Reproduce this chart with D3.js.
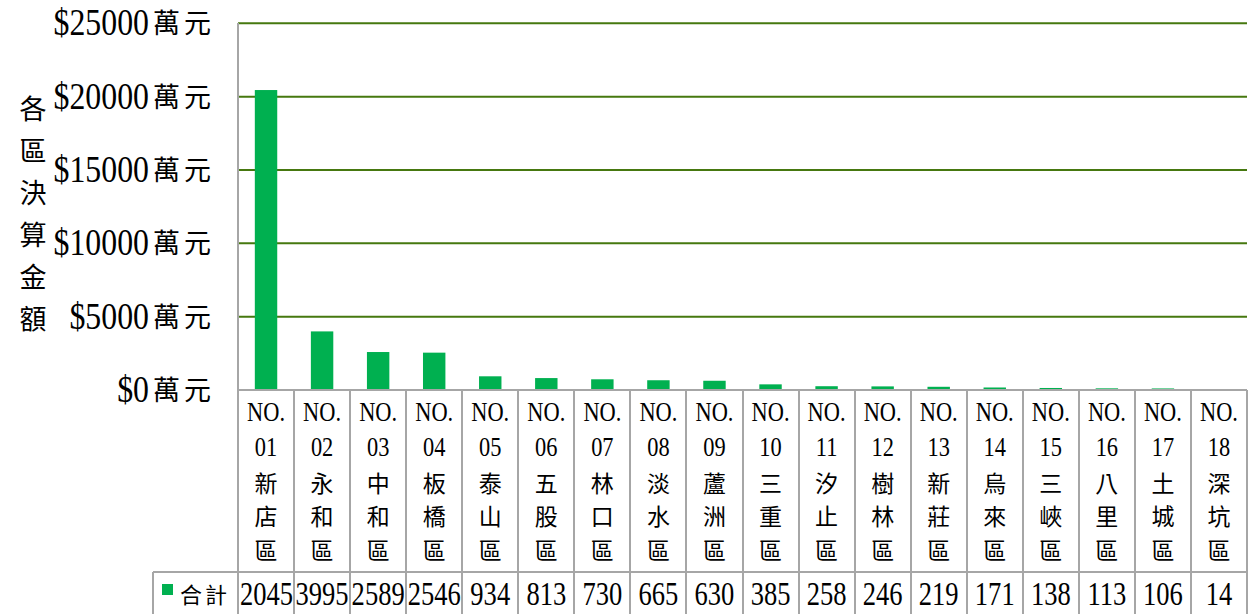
<!DOCTYPE html>
<html>
<head>
<meta charset="utf-8">
<script src="https://cdn.jsdelivr.net/npm/d3@7"></script>
<style>
  body { margin: 0; background: #fff; }
  svg { display: block; }
</style>
</head>
<body>
<div class="canvas"></div>
<script>
// chart data
const districtNos = ['01', '02', '03', '04', '05', '06', '07', '08', '09',
  '10', '11', '12', '13', '14', '15', '16', '17', '18'];
const districtNames = ['新店區', '永和區', '中和區', '板橋區', '泰山區', '五股區', '林口區', '淡水區', '蘆洲區',
  '三重區', '汐止區', '樹林區', '新莊區', '烏來區', '三峽區', '八里區', '土城區', '深坑區'];
const totals = [20450, 3995, 2589, 2546, 934, 813, 730, 665, 630,
  385, 258, 246, 219, 171, 138, 113, 106, 14];
const yTicks = [0, 5000, 10000, 15000, 20000, 25000];
const yTitle = '各區決算金額';
const seriesName = '合計';

const NUM = '"Liberation Serif", serif';
const CJK = '"Noto Sans CJK TC", sans-serif';
const barColor = '#00b050';
const gridColor = '#46780f';
const lineColor = '#a6a6a6';

const width = 1256, height = 614;
const plot = { left: 238, right: 1247, top: 23.3, bottom: 390 };
const table = { headerBottom: 572, legendLeft: 153 };

const svg = d3.select('.canvas')
  .append('svg')
  .attr('width', width)
  .attr('height', height);

const x = d3.scaleBand()
  .domain(districtNos)
  .range([plot.left, plot.right])
  .padding(0);

const y = d3.scaleLinear()
  .domain([0, 25000])
  .range([plot.bottom, plot.top]);

// gridlines
svg.append('g')
  .selectAll('line')
  .data(yTicks.filter(d => d > 0))
  .join('line')
  .attr('x1', plot.left)
  .attr('x2', plot.right)
  .attr('y1', d => y(d))
  .attr('y2', d => y(d))
  .attr('stroke', gridColor)
  .attr('stroke-width', 2);

// bars
const barW = x.bandwidth() * 0.4;
svg.append('g')
  .selectAll('rect')
  .data(totals)
  .join('rect')
  .attr('x', (d, i) => x(districtNos[i]) + (x.bandwidth() - barW) / 2)
  .attr('width', barW)
  .attr('y', d => y(d))
  .attr('height', d => plot.bottom - y(d))
  .attr('fill', barColor);

// digits are drawn narrow, like the original font
const numText = (g, str, px, py, size, anchor, sx = 0.8) => g.append('text')
  .attr('transform', `translate(${px},${py}) scale(${sx},1)`)
  .attr('text-anchor', anchor)
  .attr('font-family', NUM)
  .attr('font-size', size)
  .attr('fill', '#000')
  .text(str);

// y tick labels
const tickG = svg.append('g');
yTicks.forEach(t => {
  const cy = y(t);
  numText(tickG, '$' + t, 149, cy + 12, 37, 'end', 0.86);
  tickG.append('text')
    .attr('x', 153)
    .attr('y', cy + 10)
    .attr('font-family', CJK)
    .attr('font-size', 27)
    .attr('letter-spacing', 4)
    .text('萬元');
});

// y title, stacked vertically
svg.append('g')
  .selectAll('text')
  .data(Array.from(yTitle))
  .join('text')
  .attr('x', 33)
  .attr('y', (d, i) => 108 + i * 42 + 10.5)
  .attr('text-anchor', 'middle')
  .attr('font-family', CJK)
  .attr('font-size', 27)
  .text(d => d);

// data table lines
const lines = svg.append('g')
  .attr('stroke', lineColor)
  .attr('stroke-width', 2)
  .attr('shape-rendering', 'crispEdges');

lines.append('line')
  .attr('x1', plot.left).attr('x2', plot.left)
  .attr('y1', plot.top).attr('y2', height);
lines.append('line')
  .attr('x1', plot.left).attr('x2', plot.right)
  .attr('y1', plot.bottom).attr('y2', plot.bottom);
lines.append('line')
  .attr('x1', table.legendLeft).attr('x2', plot.right)
  .attr('y1', table.headerBottom).attr('y2', table.headerBottom);
lines.append('line')
  .attr('x1', table.legendLeft).attr('x2', table.legendLeft)
  .attr('y1', table.headerBottom).attr('y2', height);
lines.selectAll('line.col')
  .data(districtNos)
  .join('line')
  .attr('class', 'col')
  .attr('x1', d => x(d) + x.bandwidth())
  .attr('x2', d => x(d) + x.bandwidth())
  .attr('y1', plot.bottom)
  .attr('y2', height);

// category header cells
const catG = svg.append('g');
districtNos.forEach((no, i) => {
  const cx = x(no) + x.bandwidth() / 2;
  numText(catG, 'NO.', cx, 412 + 9.2, 28, 'middle');
  numText(catG, no, cx, 447 + 9.2, 28, 'middle');
  Array.from(districtNames[i]).forEach((ch, j) => {
    catG.append('text')
      .attr('x', cx)
      .attr('y', 483 + j * 33.5 + 8.5)
      .attr('text-anchor', 'middle')
      .attr('font-family', CJK)
      .attr('font-size', 23)
      .text(ch);
  });
});

// value row: like the spreadsheet, a number too wide for its cell is cut off
const valG = svg.append('g');
const digitW = 34 * 0.5 * 0.78;
totals.forEach((v, i) => {
  const left = x(districtNos[i]);
  const bw = x.bandwidth();
  const str = String(v);
  const fit = Math.floor((bw - 2) / digitW);
  const tooWide = str.length > fit;
  numText(valG, tooWide ? str.slice(0, fit) : str,
    tooWide ? left + 2 : left + bw / 2, 605, 34, tooWide ? 'start' : 'middle', 0.78);
});

// legend key in the table
svg.append('rect')
  .attr('x', 162).attr('y', 584)
  .attr('width', 11).attr('height', 11)
  .attr('fill', barColor);
svg.append('text')
  .attr('x', 180)
  .attr('y', 594 + 8.5)
  .attr('font-family', CJK)
  .attr('font-size', 22)
  .attr('letter-spacing', 3)
  .text(seriesName);
</script>
</body>
</html>
